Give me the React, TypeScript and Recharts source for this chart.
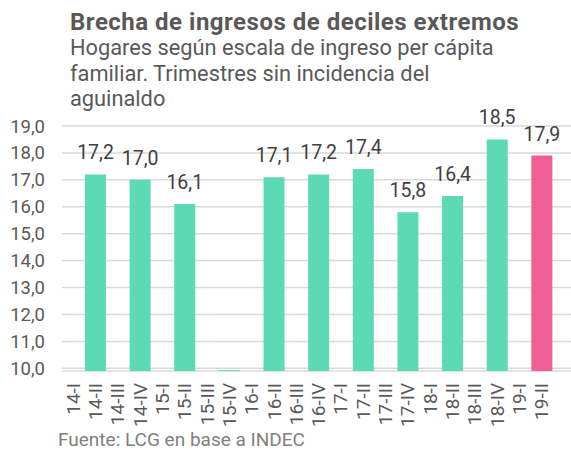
import { Bar, BarChart, CartesianGrid, Cell, LabelList, XAxis, YAxis } from "recharts";

const quarters = [
  "14-I", "14-II", "14-III", "14-IV",
  "15-I", "15-II", "15-III", "15-IV",
  "16-I", "16-II", "16-III", "16-IV",
  "17-I", "17-II", "17-III", "17-IV",
  "18-I", "18-II", "18-III", "18-IV",
  "19-I", "19-II",
];
const brecha = [
  null, 17.2, null, 17.0,
  null, 16.1, null, 9.93,
  null, 17.1, null, 17.2,
  null, 17.4, null, 15.8,
  null, 16.4, null, 18.5,
  null, 17.9,
];
const highlighted = ["19-II"];
const yTicks = [10, 11, 12, 13, 14, 15, 16, 17, 18, 19];

const data = quarters.map((q, i) => ({ q, value: brecha[i] }));

const FONT = "Roboto, 'Noto Sans', sans-serif";
const TEAL = "#5cdab4";
const PINK = "#ef5e94";

const fmt = (v: number) => v.toFixed(1).replace(".", ",");

function XTick(props: any) {
  const { x, y, payload } = props;
  return (
    <text
      x={x}
      y={y}
      transform={`rotate(-90 ${x} ${y})`}
      textAnchor="end"
      dominantBaseline="central"
      fill="#595959"
      fontSize={19}
      fontFamily={FONT}
    >
      {payload.value}
    </text>
  );
}

export default function App() {
  return (
    <div style={{ position: "absolute", left: 0, top: 0, width: 571, height: 450, background: "#fff" }}>
      <BarChart
        width={571}
        height={450}
        data={data}
        margin={{ top: 126, right: 0, left: 0, bottom: 19 }}
        barCategoryGap="3%"
        baseValue={10}
      >
        <CartesianGrid vertical={false} stroke="#d9d9d9" strokeWidth={1.5} />
        <XAxis
          dataKey="q"
          interval={0}
          height={60}
          tickSize={0}
          tickMargin={12}
          axisLine={false}
          padding={{ left: 0, right: 18 }}
          tick={<XTick />}
        />
        <YAxis
          width={62}
          domain={[9.9, 19]}
          ticks={yTicks}
          allowDataOverflow
          axisLine={false}
          tickLine={false}
          tickSize={0}
          tickMargin={17}
          tickFormatter={fmt}
          tick={{ fill: "#595959", fontSize: 18.5, fontFamily: FONT }}
        />
        <Bar dataKey="value" isAnimationActive={false}>
          {data.map((d) => (
            <Cell key={d.q} fill={highlighted.includes(d.q) ? PINK : TEAL} />
          ))}
          <LabelList
            dataKey="value"
            position="top"
            offset={15}
            fill="#404040"
            fontSize={19.5}
            fontFamily={FONT}
            formatter={(v: any) => (typeof v === "number" && v >= 10 ? fmt(v) : "")}
          />
        </Bar>
      </BarChart>
      <svg
        width={571}
        height={450}
        style={{ position: "absolute", left: 0, top: 0, pointerEvents: "none" }}
        fontFamily={FONT}
      >
        <text x={70} y={30} fontSize={24} fontWeight="bold" letterSpacing={0.5} fill="#595959">
          Brecha de ingresos de deciles extremos
        </text>
        <text fontSize={21.8} fill="#595959">
          <tspan x={70} y={55}>Hogares según escala de ingreso per cápita</tspan>
          <tspan x={70} y={80.5}>familiar. Trimestres sin incidencia del</tspan>
          <tspan x={70} y={106}>aguinaldo</tspan>
        </text>
        <text x={58} y={446} fontSize={19} fill="#808080">
          Fuente: LCG en base a INDEC
        </text>
      </svg>
    </div>
  );
}
